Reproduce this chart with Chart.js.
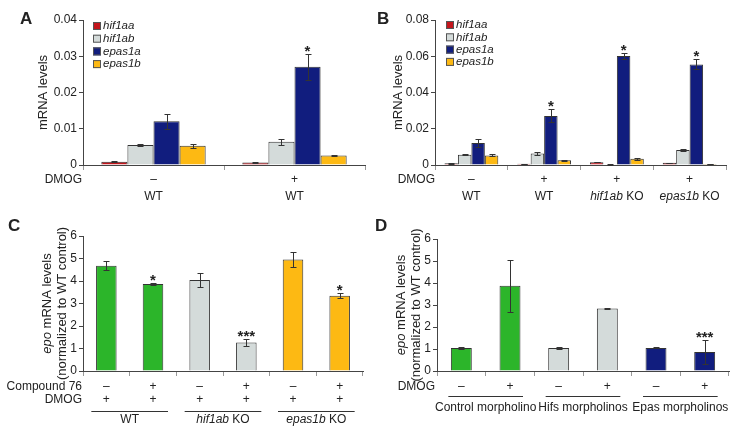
<!DOCTYPE html>
<html>
<head>
<meta charset="utf-8">
<script src="https://cdn.jsdelivr.net/npm/chart.js@4.4.1/dist/chart.umd.min.js"></script>
<style>
  body { margin: 0; background: #fff; }
  #wrap { position: relative; width: 736px; height: 432px; }
  #wrap canvas { position: absolute; }
</style>
</head>
<body>
<div id="wrap">
  <canvas id="chartA" width="368" height="216" style="left:0;top:0"></canvas>
  <canvas id="chartB" width="368" height="216" style="left:368px;top:0"></canvas>
  <canvas id="chartC" width="368" height="216" style="left:0;top:216px"></canvas>
  <canvas id="chartD" width="368" height="216" style="left:368px;top:216px"></canvas>
</div>
<script>
const FONT = "'Liberation Sans', Arial, Helvetica, sans-serif";
Chart.defaults.font.family = FONT;
Chart.defaults.font.size = 12;
Chart.defaults.color = '#222';

// shared legend / colours
const geneNames = ['hif1aa', 'hif1ab', 'epas1a', 'epas1b'];
const geneColors = ['#c3151c', '#d4dbda', '#111d7e', '#fdb913'];
const green = '#2cb52a', grey = '#d4dbda', navy = '#111d7e', yellow = '#fdb913';

// Panel A
const aDmog = ['–', '+'];
const aStrain = ['WT', 'WT'];
const aHif1aa = [0.0009, 0.0007];
const aHif1ab = [0.0055, 0.0064];
const aEpas1a = [0.0121, 0.0271];
const aEpas1b = [0.0053, 0.0026];
const aHif1aaErr = [0.0001, 0.0001];
const aHif1abErr = [0.0003, 0.0009];
const aEpas1aErr = [0.0021, 0.0036];
const aEpas1bErr = [0.0006, 0.0002];
const aEpas1aStars = ['', '*'];

// Panel B
const bDmog = ['–', '+', '+', '+'];
const bStrainItalic = ['', '', 'hif1ab', 'epas1b'];
const bStrainText = ['WT', 'WT', ' KO', ' KO'];
const bHif1aa = [0.0009, 0.0007, 0.0015, 0.0012];
const bHif1ab = [0.0057, 0.0064, 0.0003, 0.0083];
const bEpas1a = [0.0122, 0.0271, 0.0601, 0.0555];
const bEpas1b = [0.0053, 0.0026, 0.0035, 0.0006];
const bHif1aaErr = [0.0001, 0.0001, 0.0001, 0.0001];
const bHif1abErr = [0.0003, 0.0009, 0.0001, 0.0003];
const bEpas1aErr = [0.0021, 0.0036, 0.0015, 0.0028];
const bEpas1bErr = [0.0005, 0.0002, 0.0005, 0.0001];
const bEpas1aStars = ['', '*', '*', '*'];

// Panel C
const cCompound = ['–', '+', '–', '+', '–', '+'];
const cDmog = ['+', '+', '+', '+', '+', '+'];
const cGroupItalic = ['', 'hif1ab', 'epas1b'];
const cGroupText = ['WT', ' KO', ' KO'];
const cEpo = [4.68, 3.87, 4.04, 1.27, 4.96, 3.35];
const cEpoErr = [0.20, 0.05, 0.32, 0.14, 0.35, 0.10];
const cStars = ['', '*', '', '***', '', '*'];
const cColors = [green, green, grey, grey, yellow, yellow];

// Panel D
const dDmog = ['–', '+', '–', '+', '–', '+'];
const dGroupText = ['Control morpholino', 'Hifs morpholinos', 'Epas morpholinos'];
const dEpo = [1.04, 3.87, 1.04, 2.84, 1.05, 0.86];
const dEpoErr = [0.03, 1.17, 0.03, 0.02, 0.02, 0.55];
const dStars = ['', '', '', '', '', '***'];
const dColors = [green, green, grey, grey, navy, navy];

function font(size, italic, bold) {
  return (italic ? 'italic ' : '') + (bold ? 'bold ' : '') + size + 'px ' + FONT;
}

// draws text made of [text, italic] parts centred on cx
function drawParts(ctx, parts, cx, cy, size) {
  let w = 0;
  parts.forEach(p => { ctx.font = font(size, p[1]); w += ctx.measureText(p[0]).width; });
  let x = cx - w / 2;
  ctx.textAlign = 'left';
  ctx.textBaseline = 'middle';
  parts.forEach(p => {
    ctx.font = font(size, p[1]);
    ctx.fillText(p[0], x, cy);
    x += ctx.measureText(p[0]).width;
  });
}

const panelDecor = {
  id: 'panelDecor',
  afterDatasetsDraw(chart, args, o) {
    const ctx = chart.ctx, ys = chart.scales.y;
    ctx.save();
    ctx.strokeStyle = '#333';
    ctx.fillStyle = '#222';
    ctx.lineWidth = 1;
    chart.data.datasets.forEach((ds, i) => {
      chart.getDatasetMeta(i).data.forEach((bar, j) => {
        const v = ds.data[j], e = ds.errors[j];
        const bx = Math.round(bar.x) + 0.5;
        const top = Math.round(ys.getPixelForValue(v + e)) + 0.5;
        const bot = Math.round(ys.getPixelForValue(Math.max(v - e, 0))) + 0.5;
        ctx.beginPath();
        ctx.moveTo(bx, top); ctx.lineTo(bx, bot);
        ctx.moveTo(bx - 3, top); ctx.lineTo(bx + 3, top);
        ctx.moveTo(bx - 3, bot); ctx.lineTo(bx + 3, bot);
        ctx.stroke();
        if (ds.stars && ds.stars[j]) {
          ctx.font = font(15, false, true);
          ctx.textAlign = 'center';
          ctx.textBaseline = 'alphabetic';
          ctx.fillText(ds.stars[j], bar.x, top + 1);
        }
      });
    });
    ctx.restore();
  },
  afterDraw(chart, args, o) {
    const ctx = chart.ctx, xs = chart.scales.x, area = chart.chartArea;
    ctx.save();
    ctx.fillStyle = '#222';
    ctx.strokeStyle = '#333';
    // panel letter
    ctx.font = font(17, false, true);
    ctx.textAlign = 'left';
    ctx.textBaseline = 'alphabetic';
    ctx.fillText(o.letter, o.letterX, o.letterY);
    // rotated y titles
    const midY = (area.top + area.bottom) / 2;
    o.titles.forEach(t => {
      ctx.save();
      ctx.translate(t.x, midY);
      ctx.rotate(-Math.PI / 2);
      drawParts(ctx, t.parts, 0, 0, 13);
      ctx.restore();
    });
    // legend
    if (o.legend) {
      geneNames.forEach((g, i) => {
        const ly = o.legend.y + i * o.legend.dy;
        ctx.fillStyle = geneColors[i];
        ctx.fillRect(o.legend.x, ly - 4, 8, 8);
        ctx.strokeStyle = '#555';
        ctx.strokeRect(o.legend.x + 0.5, ly - 3.5, 7, 7);
        ctx.fillStyle = '#222';
        ctx.font = font(11.5, true);
        ctx.textAlign = 'left';
        ctx.textBaseline = 'middle';
        ctx.fillText(g, o.legend.x + 10, ly);
      });
      ctx.strokeStyle = '#333';
    }
    // treatment rows under the axis
    o.rows.forEach(r => {
      ctx.font = font(12);
      ctx.textAlign = 'right';
      ctx.textBaseline = 'middle';
      ctx.fillText(r.name, o.rowRight, r.y);
      ctx.textAlign = 'center';
      r.marks.forEach((m, j) => ctx.fillText(m, xs.getPixelForValue(j), r.y));
    });
    // group labels (one group = o.groupSize categories)
    const n = o.groupText.length, k = o.groupSize;
    for (let g = 0; g < n; g++) {
      const x0 = xs.getPixelForValue(g * k), x1 = xs.getPixelForValue(g * k + k - 1);
      const parts = [];
      if (o.groupItalic && o.groupItalic[g]) parts.push([o.groupItalic[g], true]);
      parts.push([o.groupText[g], false]);
      drawParts(ctx, parts, (x0 + x1) / 2, o.groupY, 12);
      if (o.underlineY) {
        ctx.beginPath();
        ctx.lineWidth = 1;
        ctx.moveTo(x0 - o.underlineExt, o.underlineY + 0.5);
        ctx.lineTo(x1 + o.underlineExt, o.underlineY + 0.5);
        ctx.stroke();
      }
    }
    ctx.restore();
  }
};

function scales(max, step, fmt, yWidth, xHeight) {
  return {
    x: {
      grid: { drawOnChartArea: false, drawTicks: true, tickLength: 5, color: '#999' },
      border: { color: '#444' },
      ticks: { display: false },
      afterFit: s => { s.height = xHeight; }
    },
    y: {
      min: 0, max: max,
      ticks: { stepSize: step, callback: fmt, padding: 2, color: '#222', font: { size: 12 } },
      grid: { drawOnChartArea: false, tickLength: 4, color: '#444' },
      border: { color: '#444' },
      afterFit: s => { s.width = yWidth; }
    }
  };
}

const fmtSmall = v => v === 0 ? '0' : v.toFixed(2);
const fmtInt = v => String(v);

function geneSets(vals, errs, stars) {
  return geneNames.map((g, i) => ({
    label: g, data: vals[i], errors: errs[i], stars: stars[i],
    backgroundColor: geneColors[i], borderColor: '#333', borderWidth: 1,
    categoryPercentage: 0.74, barPercentage: 1
  }));
}

const baseOpts = {
  responsive: false, animation: false, events: [],
  plugins: { legend: { display: false }, tooltip: { enabled: false } }
};

new Chart(document.getElementById('chartA'), {
  type: 'bar',
  data: {
    labels: aStrain,
    datasets: geneSets([aHif1aa, aHif1ab, aEpas1a, aEpas1b],
                       [aHif1aaErr, aHif1abErr, aEpas1aErr, aEpas1bErr],
                       [null, null, aEpas1aStars, null])
  },
  options: {
    ...baseOpts,
    layout: { padding: { top: 20, right: 3, left: 0, bottom: 0 } },
    scales: scales(0.04, 0.01, fmtSmall, 83, 51),
    plugins: { ...baseOpts.plugins, panelDecor: {
      letter: 'A', letterX: 20, letterY: 24,
      titles: [{ x: 43, parts: [['mRNA levels', false]] }],
      legend: { x: 93, y: 26, dy: 12.7 },
      rows: [{ name: 'DMOG', y: 180, marks: aDmog }], rowRight: 82,
      groupText: aStrain, groupSize: 1, groupY: 197
    } }
  },
  plugins: [panelDecor]
});

new Chart(document.getElementById('chartB'), {
  type: 'bar',
  data: {
    labels: bStrainText,
    datasets: geneSets([bHif1aa, bHif1ab, bEpas1a, bEpas1b],
                       [bHif1aaErr, bHif1abErr, bEpas1aErr, bEpas1bErr],
                       [null, null, bEpas1aStars, null])
  },
  options: {
    ...baseOpts,
    layout: { padding: { top: 20, right: 10, left: 0, bottom: 0 } },
    scales: scales(0.08, 0.02, fmtSmall, 67, 51),
    plugins: { ...baseOpts.plugins, panelDecor: {
      letter: 'B', letterX: 9, letterY: 24,
      titles: [{ x: 30, parts: [['mRNA levels', false]] }],
      legend: { x: 78, y: 25, dy: 12.3 },
      rows: [{ name: 'DMOG', y: 180, marks: bDmog }], rowRight: 67,
      groupItalic: bStrainItalic, groupText: bStrainText, groupSize: 1, groupY: 197
    } }
  },
  plugins: [panelDecor]
});

new Chart(document.getElementById('chartC'), {
  type: 'bar',
  data: {
    labels: cCompound.map((c, i) => i),
    datasets: [{
      data: cEpo, errors: cEpoErr, stars: cStars,
      backgroundColor: cColors, borderColor: '#333', borderWidth: 1,
      categoryPercentage: 1, barPercentage: 0.44
    }]
  },
  options: {
    ...baseOpts,
    layout: { padding: { top: 20, right: 5, left: 0, bottom: 0 } },
    scales: scales(6, 1, fmtInt, 83, 61),
    plugins: { ...baseOpts.plugins, panelDecor: {
      letter: 'C', letterX: 8, letterY: 15,
      titles: [{ x: 47, parts: [['epo', true], [' mRNA levels', false]] },
               { x: 62, parts: [['(normalized to WT control)', false]] }],
      rows: [{ name: 'Compound 76', y: 171, marks: cCompound },
             { name: 'DMOG', y: 184, marks: cDmog }], rowRight: 82,
      groupItalic: cGroupItalic, groupText: cGroupText, groupSize: 2, groupY: 204,
      underlineY: 195, underlineExt: 15
    } }
  },
  plugins: [panelDecor]
});

new Chart(document.getElementById('chartD'), {
  type: 'bar',
  data: {
    labels: dDmog.map((c, i) => i),
    datasets: [{
      data: dEpo, errors: dEpoErr, stars: dStars,
      backgroundColor: dColors, borderColor: '#333', borderWidth: 1,
      categoryPercentage: 1, barPercentage: 0.43
    }]
  },
  options: {
    ...baseOpts,
    layout: { padding: { top: 23, right: 7, left: 0, bottom: 0 } },
    scales: scales(6, 1, fmtInt, 69, 61),
    plugins: { ...baseOpts.plugins, panelDecor: {
      letter: 'D', letterX: 7, letterY: 15,
      titles: [{ x: 33, parts: [['epo', true], [' mRNA levels', false]] },
               { x: 48, parts: [['(normalized to WT control)', false]] }],
      rows: [{ name: 'DMOG', y: 171, marks: dDmog }], rowRight: 67,
      groupText: dGroupText, groupSize: 2, groupY: 192,
      underlineY: 180, underlineExt: 13
    } }
  },
  plugins: [panelDecor]
});
</script>
</body>
</html>
